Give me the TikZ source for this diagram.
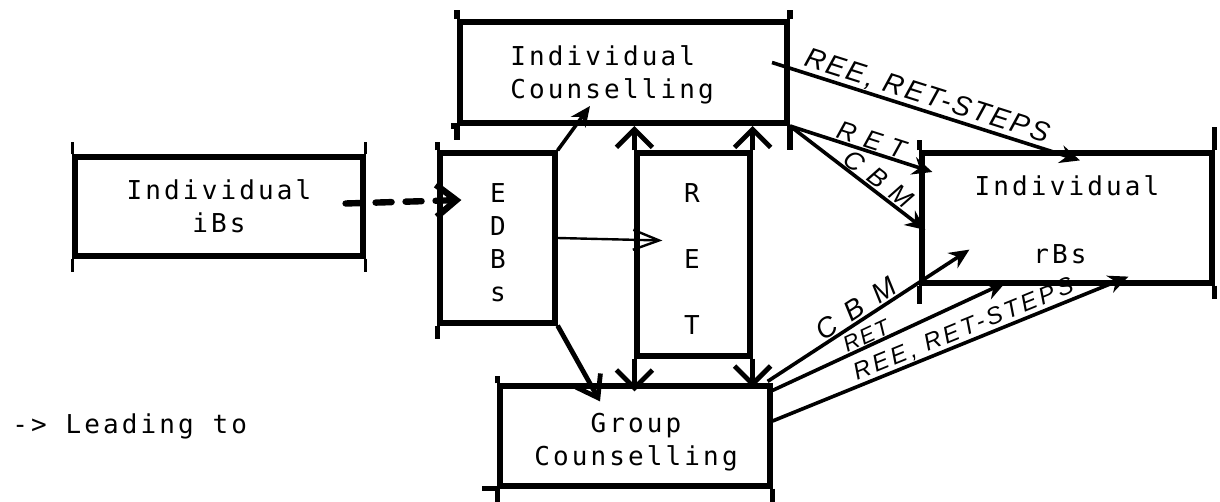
\documentclass[tikz,border=0pt]{standalone}
\usepackage{fontspec}
\usetikzlibrary{arrows.meta}
\newfontfamily\typew{DejaVu Sans Mono}[LetterSpace=12]
\newfontfamily\handfont{Liberation Sans}
\begin{document}
\begin{tikzpicture}[x=0.5pt,y=-0.5pt,
  box/.style={draw, line width=2.6pt, inner sep=0pt},
  tick/.style={line width=1.2pt},
  heavy/.style={line width=2.6pt},
  txt/.style={font=\typew\fontsize{13}{16.5}\selectfont, inner sep=0pt, align=center},
  vee/.style={-{Straight Barb[length=9pt,width=18pt]}, line width=2.4pt},
  diagvee/.style={-{Straight Barb[length=10pt,width=14pt]}, line width=2.4pt},
  thinvee/.style={-{Straight Barb[length=13pt,width=10pt]}, line width=1.2pt},
  blob/.style={-{Stealth[length=10pt,width=9pt]}, line width=1.8pt},
  dasharrow/.style={-{Straight Barb[length=10pt,width=16pt]}, line width=3.2pt,
    line cap=round, dash pattern=on 8pt off 7pt},
  hl/.style 2 args={sloped, above, inner sep=0.5pt,
    font=\handfont\itshape\fontsize{#1}{#1}\selectfont\addfontfeatures{LetterSpace=#2}}
]
\useasboundingbox (0,0) rectangle (1220,502);

% boxes
\node[box, minimum width=144pt,   minimum height=49.5pt] (ibs)  at (219,206.5) {};
\node[box, line width=3pt, minimum width=163.5pt, minimum height=50.5pt] (ic) at (623.5,72.5) {};
\node[box, minimum width=57.5pt,  minimum height=85pt]   (edbs) at (497.5,238) {};
\node[box, minimum width=56.5pt,  minimum height=101.5pt](ret)  at (693.5,254.5) {};
\node[box, minimum width=145pt,   minimum height=65pt]   (rbs)  at (1067,218) {};
\node[box, minimum width=135pt,   minimum height=50pt]   (gc)   at (635,436) {};

% over-running box edges
\draw[tick] (ibs.north west) -- ++(0,-12) (ibs.south west) -- ++(0,13)
            (ibs.north east) -- ++(0,-12) (ibs.south east) -- ++(0,13);
\draw[heavy] (ic.north west) -- ++(0,-9) (ic.north east) -- ++(0,-9)
             (ic.south west) -- ++(0,14) (ic.south east) -- ++(0,24)
             (ic.south west) -- ++(-6,0);
\draw[heavy] (edbs.north west) -- ++(0,-8) (edbs.south west) -- ++(0,13);
\draw[heavy] (rbs.north west) -- ++(0,-10) (rbs.south west) -- ++(0,18)
             (rbs.north east) -- ++(0,-23) (rbs.south east) -- ++(0,13);
\draw[heavy] (gc.north west) -- ++(0,-7) (gc.south west) -- ++(0,20)
             (gc.south east) -- ++(0,20) (gc.south west) -- ++(-15,0);

% texts
\node[txt] (ibst) at (219,206.5) {Individual\\iBs};
\node[txt, align=left, anchor=west] (ict) at (510,75) {Individual\\Counselling};
\node[txt] (edbst) at (498,242.5) {E\\D\\B\\s};
\node[txt, font=\typew\fontsize{13}{33}\selectfont] (rett) at (692,259) {R\\E\\T};
\node[txt] (rbst1) at (1067,186) {Individual};
\node[txt] (rbst2) at (1060,254) {rBs};
\node[txt] (gct) at (636,442) {Group\\Counselling};
\node[txt, anchor=west] (legend) at (12,426) {-> Leading to};

% connectors between the boxes
\draw[dasharrow] ([shift={(-20,-3)}]ibs.east) -- ([shift={(24,-38)}]edbs.west);
\draw[thinvee] (edbs.east) -- ([shift={(28,-14)}]ret.west);
\draw[blob] (edbs.north east) -- ([shift={(-33.5,-20)}]ic.south);
\draw[diagvee] (edbs.south east) -- ([shift={(-35,18)}]gc.north);
\draw[vee] (ret.north west) -- (ret.north west |- ic.south);
\draw[vee] (ret.north east) -- (ret.north east |- ic.south);
\draw[vee, shorten >=-4pt] (ret.south west) -- (ret.south west |- gc.north);
\draw[vee, shorten >=-2pt] (ret.south east) -- (ret.south east |- gc.north);

% individual counselling to rBs
\draw[blob] ([shift={(-18,-10)}]ic.east) --
  node[hl={14}{8}, pos=.49] {REE, RET-STEPS} ([shift={(13,10)}]rbs.north);
\draw[blob] (ic.south east) --
  node[hl={13}{35}, pos=.55] {RET} ([shift={(13,-46)}]rbs.west);
\draw[blob] (ic.south east) --
  node[hl={13}{40}, pos=.6] {CBM} ([shift={(6,12)}]rbs.west);

% group counselling to rBs
\draw[blob] ([shift={(-5,-2)}]gc.north east) --
  node[hl={14}{50}, pos=.47] {CBM} ([shift={(50,-36)}]rbs.south west);
\draw[blob] ([shift={(0,7)}]gc.north east) --
  node[hl={11}{10}, pos=.42] {RET} ([shift={(86,-3)}]rbs.south west);
\draw[blob] ([shift={(0,-15)}]gc.east) --
  node[hl={12}{14}, pos=.55] {REE, RET-STEPS} ([shift={(209,-9)}]rbs.south west);
\end{tikzpicture}
\end{document}
